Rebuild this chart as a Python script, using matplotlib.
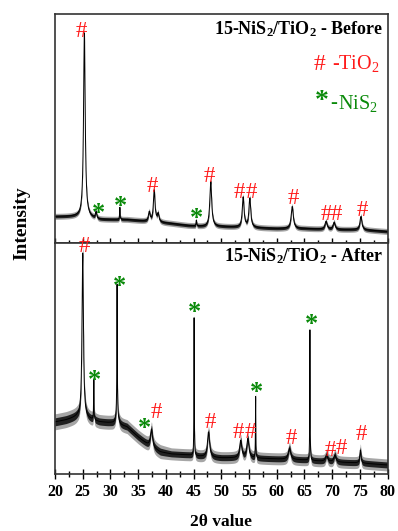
import numpy as np
import matplotlib
matplotlib.use("Agg")
import matplotlib.pyplot as plt
from matplotlib.ticker import MultipleLocator

plt.rcParams['font.family'] = ['Liberation Serif', 'DejaVu Serif']
plt.rcParams['mathtext.fontset'] = 'custom'
plt.rcParams['mathtext.rm'] = 'Liberation Serif'
plt.rcParams['mathtext.bf'] = 'Liberation Serif:bold'
plt.rcParams['mathtext.default'] = 'regular'

# ---- data (intensity in arbitrary units) ----
base_x = [20, 22, 24, 26, 28, 30, 33, 35, 37, 39, 41, 44, 47, 50, 55, 60, 65, 70, 75, 80]
base_before = [26, 26, 26, 25, 23, 23, 23, 22, 21, 20, 19, 17, 16, 16, 15, 14, 14, 13, 13, 11]
base_after = [52, 54, 57, 55, 52, 51, 47, 37, 28, 22, 20, 19, 17, 16, 16, 15, 14, 12, 11, 9]
noise_before = [3, 3, 3, 3, 3, 3, 3, 3, 3, 3, 3, 3, 3, 3, 3, 3, 3, 3, 3, 3]
noise_after = [8, 8, 8, 7, 7, 7, 7, 7, 7, 7, 6, 6, 6, 6, 6, 6, 6, 6, 6, 6]

pk_before_pos = [25.3, 27.4, 31.7, 37.0, 37.9, 38.6, 45.5, 48.1, 53.95, 55.15, 62.8, 68.9, 70.35, 75.2]
pk_before_top = [210, 30, 35, 30, 52, 28, 22, 61, 45, 44, 36, 21, 20, 26]
pk_before_fwhm = [0.35, 0.25, 0.1, 0.35, 0.35, 0.35, 0.12, 0.4, 0.38, 0.38, 0.45, 0.45, 0.45, 0.4]

pk_after_pos = [25.0, 27.0, 31.2, 31.2, 37.4, 45.1, 47.7, 53.5, 54.8, 56.2, 62.3, 66.0, 69.0, 70.5, 75.1]
pk_after_top = [221, 94, 177, 62, 45, 156, 42, 33, 35, 77, 26, 144, 19, 19, 24]
pk_after_fwhm = [0.3, 0.08, 0.08, 0.5, 0.45, 0.07, 0.45, 0.45, 0.45, 0.07, 0.5, 0.07, 0.45, 0.45, 0.25]

# labels: (symbol, x, y)
lab_before_sym = ['#', '*', '*', '#', '*', '#', '#', '#', '#', '#', '#', '#']
lab_before_x = [24.8, 27.8, 31.9, 37.6, 45.6, 47.8, 53.3, 55.5, 63.0, 68.9, 70.8, 75.5]
lab_before_y = [211, 35, 42, 56, 30, 66, 50, 50, 44, 28, 28, 32]

lab_after_sym = ['#', '*', '*', '*', '#', '*', '#', '#', '#', '*', '#', '*', '#', '#', '#']
lab_after_x = [25.3, 27.2, 31.6, 36.2, 38.3, 45.1, 48.0, 53.0, 55.3, 56.3, 62.7, 66.3, 69.7, 71.6, 75.2]
lab_after_y = [227, 100, 194, 52, 61, 167, 51, 41, 41, 87, 35, 155, 23, 26, 40]

xticks = [20, 25, 30, 35, 40, 45, 50, 55, 60, 65, 70, 75, 80]


def profile(x, bx, by, pos, top, fwhm):
    base = np.interp(x, bx, by)
    y = base.copy()
    for p, t, w in zip(pos, top, fwhm):
        amp = t - np.interp(p, bx, by)
        hw = w / 2.0
        y += amp * hw**2 / ((x - p)**2 + hw**2)
    return y


x = np.linspace(20, 80, 6001)
y_before = profile(x, base_x, base_before, pk_before_pos, pk_before_top, pk_before_fwhm)
y_after = profile(x, base_x, base_after, pk_after_pos, pk_after_top, pk_after_fwhm)
n_before = np.interp(x, base_x, noise_before)
n_after = np.interp(x, base_x, noise_after)

W, H = 398, 531
fig = plt.figure(figsize=(W / 100, H / 100), dpi=100)
L, R = 55 / W, 387.5 / W
top_px, mid_px, bot_px = 14, 242.5, 474
ax1 = fig.add_axes([L, 1 - mid_px / H, R - L, (mid_px - top_px) / H])
ax2 = fig.add_axes([L, 1 - bot_px / H, R - L, (bot_px - mid_px) / H])

RED = '#ff1a1a'
GREEN = '#0a8a0a'

for ax, y, n, ymax in [(ax1, y_before, n_before, 229), (ax2, y_after, n_after, 231.5)]:
    ax.fill_between(x, y - n, y + n, color='black', alpha=0.35, lw=0)
    ax.fill_between(x, y - n * 0.5, y + n * 0.5, color='black', alpha=0.8, lw=0)
    ax.plot(x, y, color='black', lw=0.7)
    ax.set_xlim(20, 80)
    ax.set_ylim(0, ymax)
    ax.set_yticks([])
    ax.xaxis.set_major_locator(MultipleLocator(5))
    ax.xaxis.set_minor_locator(MultipleLocator(2.5))
    for s in ax.spines.values():
        s.set_linewidth(1.2)
        s.set_color('#333333')

ax1.tick_params(axis='x', which='major', direction='in', length=3.5, width=1, labelbottom=False)
ax1.tick_params(axis='x', which='minor', direction='in', length=2, width=1)
ax2.tick_params(axis='x', which='major', direction='inout', length=7, width=1)
ax2.tick_params(axis='x', which='minor', direction='inout', length=4.5, width=1)
ax2.set_xticks(xticks)
ax2.set_xticklabels([str(t) for t in xticks], fontsize=11.5, fontweight='bold')
ax2.tick_params(axis='x', pad=4)


def put_labels(ax, syms, xs, ys):
    for s, xx, yy in zip(syms, xs, ys):
        if s == '#':
            ax.text(xx, yy, '#', color=RED, fontsize=16.5, ha='center', va='center')
        else:
            ax.text(xx, yy - 6, '*', color=GREEN, fontsize=19, fontweight='bold',
                    ha='center', va='center')


put_labels(ax1, lab_before_sym, lab_before_x, lab_before_y)
put_labels(ax2, lab_after_sym, lab_after_x, lab_after_y)


def ftext(px, py, s, **kw):
    fig.text(px / W, 1 - py / H, s, **kw)


ftext(383, 29, r'15-NiS$_2$/TiO$_2$ - Before', ha='right', va='center', fontsize=13,
      fontweight='bold')
ftext(320, 64, '#', ha='center', va='center', fontsize=17, color=RED)
ftext(380, 64, r'-TiO$_2$', ha='right', va='center', fontsize=14.5, color=RED)
ftext(322, 102, '*', ha='center', va='center', fontsize=20, fontweight='bold', color=GREEN)
ftext(333.5, 103, '-', ha='center', va='center', fontsize=15, fontweight='bold', color=GREEN)
ftext(378, 104, r'NiS$_2$', ha='right', va='center', fontsize=14.5, color=GREEN)

ftext(383, 256, r'15-NiS$_2$/TiO$_2$ - After', ha='right', va='center', fontsize=13,
      fontweight='bold')

ftext(22, 223, 'Intensity', rotation=90, ha='center', va='center', fontsize=14,
      fontweight='bold')
ftext((55 + 387.5) / 2, 522, '2θ value', ha='center', va='center', fontsize=12.5,
      fontweight='bold')

fig.savefig('out.png', dpi=100)
